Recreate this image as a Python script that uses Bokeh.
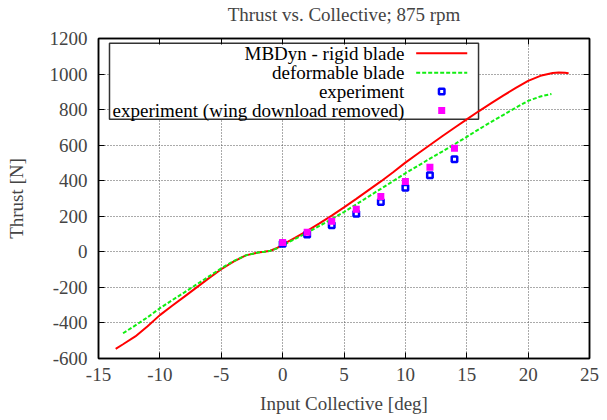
from bokeh.plotting import figure
from bokeh.models import Range1d, SingleIntervalTicker, LinearAxis
from bokeh.core.properties import value
from bokeh.embed import file_html
from bokeh.resources import INLINE

# ---------------- data ----------------
title_text = "Thrust vs. Collective; 875 rpm"
x_label = "Input Collective [deg]"
y_label = "Thrust [N]"

rigid_x = [-13.6, -13, -12, -11, -10, -9, -8, -7, -6, -5, -4, -3, -2, -1.5, -1, -0.5,
           0, 1, 2, 3, 4, 5, 6, 7, 8, 9, 10, 11, 12, 13, 14, 15, 16, 17, 18, 19, 20,
           21, 22, 22.5, 23, 23.3]
rigid_T = [-546, -520, -476, -418, -356, -303, -252, -200, -148, -98, -55, -20, -4, 0, 6, 20,
           40, 78, 118, 160, 204, 250, 298, 347, 396, 448, 502, 552, 601, 650, 698, 745,
           792, 836, 880, 922, 962, 990, 1006, 1009, 1007, 1005]

deform_x = [-13, -12, -11, -10, -9, -8, -7, -6, -5, -4, -3, -2, -1.5, -1, -0.5,
            0, 1, 2, 3, 4, 5, 6, 7, 8, 9, 10, 11, 12, 13, 14, 15, 16, 17, 18, 19, 20,
            21, 21.9]
deform_T = [-458, -414, -368, -317, -272, -228, -183, -138, -93, -52, -20, -4, 0, 6, 18,
            36, 72, 108, 146, 184, 224, 267, 311, 354, 398, 442, 483, 524, 564, 605, 647,
            690, 731, 771, 811, 849, 874, 888]

exp_x = [0, 2, 4, 6, 8, 10, 12, 14]
exp_T = [45, 97, 150, 214, 281, 360, 431, 521]
exp_nowing_T = [52, 110, 172, 240, 311, 395, 476, 583]

legend_labels = ["MBDyn - rigid blade", "deformable blade", "experiment",
                 "experiment (wing download removed)"]

x_ticks = [-15, -10, -5, 0, 5, 10, 15, 20, 25]
y_ticks = [-600, -400, -200, 0, 200, 400, 600, 800, 1000, 1200]
X0, X1 = -15, 25
Y0, Y1 = -600, 1200

# ---------------- layout / styles ----------------
FONT = "Liberation Serif"
FS = "19px"
RED = "#ff0000"
GREEN = "#11ee11"
BLUE = "#0000ff"
MAGENTA = "#ff00ff"

W, H = 599, 418
BL, BR, BT, BB = 98, 10, 38, 60

p = figure(width=W, height=H, x_range=Range1d(X0, X1), y_range=Range1d(Y0, Y1),
           output_backend="svg", toolbar_location=None,
           min_border_left=BL, min_border_right=BR, min_border_top=BT,
           min_border_bottom=BB)

def fx(f):
    return X0 + f * (X1 - X0)

def fy(f):
    return Y1 - f * (Y1 - Y0)

p.outline_line_color = "black"
p.outline_line_width = 1.5
p.background_fill_color = "white"
p.border_fill_color = "white"

def style_axis(ax, ticks):
    ax.ticker = SingleIntervalTicker(interval=ticks[1] - ticks[0], num_minor_ticks=0)
    ax.major_label_overrides = {t: str(t) for t in ticks}
    ax.axis_label_text_font = FONT
    ax.axis_label_text_font_size = FS
    ax.axis_label_text_font_style = "normal"
    ax.major_label_text_font = FONT
    ax.major_label_text_font_size = FS
    ax.major_tick_in = 6
    ax.major_tick_out = 0
    ax.minor_tick_in = 0
    ax.minor_tick_out = 0
    ax.axis_line_color = "black"
    ax.axis_line_width = 1.5
    ax.major_tick_line_color = "black"

style_axis(p.xaxis[0], x_ticks)
style_axis(p.yaxis[0], y_ticks)
p.xaxis[0].axis_label = x_label
p.yaxis[0].axis_label = y_label

p.xaxis[0].major_label_standoff = 9
p.xaxis[0].axis_label_standoff = 9
p.yaxis[0].major_label_standoff = 11
p.yaxis[0].axis_label_standoff = 20

# mirrored ticks on the right (no labels)
rax = LinearAxis()
style_axis(rax, y_ticks)
rax.major_label_text_font_size = "0px"
rax.major_label_standoff = 0
p.add_layout(rax, "right")

# mirrored ticks on top; its axis label carries the chart title
tax = LinearAxis()
style_axis(tax, x_ticks)
tax.major_label_text_font_size = "0px"
tax.major_label_standoff = 0
tax.axis_label = title_text
tax.axis_label_standoff = 14
p.add_layout(tax, "above")

for g in (p.xgrid[0], p.ygrid[0]):
    g.grid_line_color = "#555555"
    g.grid_line_dash = "1 2"
    g.grid_line_width = 1

# ---------------- legend box (drawn first, under curves) ----------------
p.quad(left=[fx(0.0224)], right=[fx(0.774)], top=[fy(0.0147)], bottom=[fy(0.252)],
       fill_color="white", line_color="#333333", line_width=1.5)

# ---------------- data marks ----------------
p.line(rigid_x, rigid_T, line_color=RED, line_width=2)
p.line(deform_x, deform_T, line_color=GREEN, line_width=2, line_dash="4 2")
p.scatter(exp_x, exp_T, marker="square", size=5.5, fill_color="white",
          line_color=BLUE, line_width=2.5)
p.scatter(exp_x, exp_nowing_T, marker="square", size=7, fill_color=MAGENTA,
          line_color=None)

# ---------------- legend content ----------------
rows = [0.046, 0.107, 0.166, 0.225]
p.text(x=[fx(0.623)] * 4, y=[fy(r) for r in rows], text=legend_labels,
       text_align="right", text_baseline="middle", text_font=value(FONT),
       text_font_size=FS, text_color="black")
p.line([fx(0.647), fx(0.751)], [fy(rows[0])] * 2, line_color=RED, line_width=2)
p.line([fx(0.647), fx(0.751)], [fy(rows[1])] * 2, line_color=GREEN, line_width=2,
       line_dash="4 2")
p.scatter([fx(0.699)], [fy(rows[2])], marker="square", size=5.5, fill_color="white",
          line_color=BLUE, line_width=2.5)
p.scatter([fx(0.699)], [fy(rows[3])], marker="square", size=7, fill_color=MAGENTA,
          line_color=None)

open("out.html", "w").write(file_html(p, INLINE))
